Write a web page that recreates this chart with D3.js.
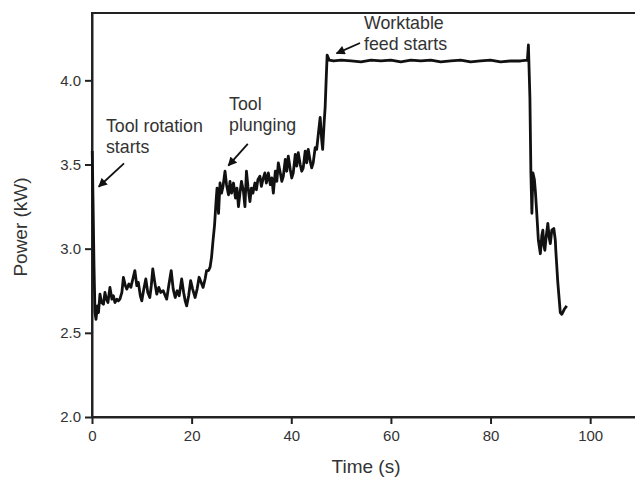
<!DOCTYPE html>
<html>
<head>
<meta charset="utf-8">
<script src="https://cdn.jsdelivr.net/npm/d3@7"></script>
<style>
	body { margin: 0; background: #fff; }
	svg { display: block; font-family: 'Liberation Sans', Arial, sans-serif; }
</style>
</head>
<body>
<svg id="chart"></svg>
<script>
const W = 635, H = 477;

// time (s) and power (kW)
const time = [
	0.05, 0.2, 0.4, 0.6, 0.8, 1.1, 1.3, 1.6, 1.9, 2.3, 2.6, 2.9, 3.2, 3.6, 4.0, 4.3, 4.6, 5.0, 5.3, 5.6,
	6.0, 6.3, 6.7, 7.0, 7.4, 7.8, 8.2, 8.6, 9.0, 9.3, 9.7, 10.0, 10.4, 10.8, 11.2, 11.6, 11.9, 12.2, 12.6, 13.0,
	13.4, 13.8, 14.3, 14.7, 15.0, 15.4, 15.9, 16.3, 16.7, 17.1, 17.5, 18.0, 18.4, 18.7, 19.0, 19.4, 19.8, 20.2, 20.7, 21.1,
	21.5, 21.9, 22.3, 22.7, 23.0, 23.4, 23.7, 24.0, 24.3, 24.6, 24.9, 25.1, 25.4, 25.7, 26.0, 26.3, 26.7, 27.0, 27.4, 27.7,
	28.0, 28.4, 28.8, 29.1, 29.4, 29.7, 30.0, 30.4, 30.7, 31.0, 31.3, 31.7, 32.0, 32.3, 32.7, 33.0, 33.3, 33.7, 34.0, 34.3,
	34.7, 35.0, 35.4, 35.8, 36.1, 36.4, 36.8, 37.1, 37.4, 37.8, 38.1, 38.4, 38.8, 39.1, 39.4, 39.8, 40.1, 40.4, 40.8, 41.1,
	41.4, 41.8, 42.1, 42.4, 42.8, 43.1, 43.4, 43.8, 44.1, 44.4, 44.8, 45.1, 45.5, 45.8, 46.1, 46.3, 46.6, 46.8, 47.0, 47.2,
	47.6, 48.5, 50, 52, 54, 56, 58, 60, 62, 64, 66, 68, 70, 72, 74, 76, 78, 80, 82, 84,
	86, 87.4, 87.6, 87.9, 88.1, 88.3, 88.5, 88.8, 89.0, 89.3, 89.6, 90.0, 90.3, 90.5, 90.7, 90.9, 91.2, 91.5, 91.8, 92.0,
	92.3, 92.7, 93.0, 93.1, 93.5, 94.0, 94.3, 94.8, 95.3
];
const power = [
	3.58, 3.30, 2.90, 2.62, 2.58, 2.66, 2.62, 2.73, 2.68, 2.67, 2.74, 2.70, 2.68, 2.77, 2.70, 2.72, 2.68, 2.70, 2.69, 2.70,
	2.74, 2.83, 2.78, 2.76, 2.79, 2.77, 2.82, 2.87, 2.78, 2.80, 2.72, 2.69, 2.76, 2.82, 2.74, 2.71, 2.78, 2.88, 2.80, 2.73,
	2.77, 2.74, 2.75, 2.72, 2.70, 2.78, 2.87, 2.76, 2.71, 2.75, 2.72, 2.82, 2.74, 2.69, 2.66, 2.72, 2.81, 2.76, 2.71, 2.76,
	2.83, 2.80, 2.77, 2.82, 2.87, 2.87, 2.89, 2.95, 3.05, 3.14, 3.28, 3.36, 3.21, 3.39, 3.33, 3.37, 3.46, 3.38, 3.32, 3.40,
	3.33, 3.39, 3.30, 3.36, 3.25, 3.33, 3.40, 3.34, 3.25, 3.46, 3.37, 3.28, 3.36, 3.33, 3.39, 3.35, 3.41, 3.43, 3.37, 3.41,
	3.45, 3.39, 3.45, 3.38, 3.42, 3.33, 3.46, 3.40, 3.51, 3.45, 3.40, 3.43, 3.53, 3.46, 3.55, 3.47, 3.42, 3.45, 3.56, 3.49,
	3.57, 3.50, 3.46, 3.48, 3.58, 3.51, 3.59, 3.52, 3.48, 3.51, 3.60, 3.59, 3.70, 3.78, 3.65, 3.59, 3.75, 3.84, 4.00, 4.15,
	4.12, 4.115, 4.12, 4.115, 4.11, 4.12, 4.115, 4.12, 4.11, 4.12, 4.115, 4.12, 4.11, 4.115, 4.12, 4.11, 4.115, 4.12, 4.11, 4.115,
	4.115, 4.12, 4.21, 3.90, 3.45, 3.21, 3.45, 3.41, 3.34, 3.20, 3.05, 2.97, 3.08, 3.11, 3.02, 2.99, 3.08, 3.15, 3.06, 3.03,
	3.11, 3.12, 3.05, 2.99, 2.80, 2.62, 2.61, 2.64, 2.66
];

const xTicks = [0, 20, 40, 60, 80, 100];
const yTicks = [2.0, 2.5, 3.0, 3.5, 4.0];

// annotation labels, anchored in data units: [t, P]
const notes = [
	{ lines: ['Tool rotation', 'starts'], at: [2.8, 3.695], from: [6.43, 3.507], to: [1.35, 3.368] },
	{ lines: ['Tool', 'plunging'], at: [27.5, 3.824], from: [31.27, 3.622], to: [27.37, 3.493] },
	{ lines: ['Worktable', 'feed starts'], at: [54.6, 4.303], from: [53.8, 4.222], to: [49.1, 4.16] }
];

const margin = { top: 13, left: 92, bottom: 60 };
const plotRight = 640;

const svg = d3.select('#chart').attr('width', W).attr('height', H);

const x = d3.scaleLinear().domain([0, 110]).range([margin.left, plotRight]);
const y = d3.scaleLinear().domain([2.0, 4.4]).range([H - margin.bottom, margin.top]);

const ink = '#222';

// frame (top and right sides)
svg.append('rect')
	.attr('x', x(0)).attr('y', y(4.4))
	.attr('width', x(110) - x(0)).attr('height', y(2.0) - y(4.4))
	.attr('fill', 'none').attr('stroke', ink).attr('stroke-width', 2);

const xAxis = svg.append('g')
	.attr('transform', `translate(0,${y(2.0)})`)
	.call(d3.axisBottom(x).tickValues(xTicks).tickSize(7).tickSizeOuter(0).tickPadding(6));
const yAxis = svg.append('g')
	.attr('transform', `translate(${x(0)},0)`)
	.call(d3.axisLeft(y).tickValues(yTicks).tickFormat(d3.format('.1f')).tickSize(7).tickSizeOuter(0).tickPadding(4));

[xAxis, yAxis].forEach(g => {
	g.select('.domain').attr('stroke', ink).attr('stroke-width', 2);
	g.selectAll('.tick line').attr('stroke', ink).attr('stroke-width', 2);
	g.selectAll('.tick text').attr('fill', '#333').attr('font-size', 15).attr('font-family', null);
});

svg.append('text')
	.attr('x', (x(0) + x(110)) / 2).attr('y', 473)
	.attr('text-anchor', 'middle').attr('font-size', 19).attr('fill', '#333')
	.text('Time (s)');
svg.append('text')
	.attr('transform', `translate(27,${(y(2.0) + y(4.4)) / 2 + 12}) rotate(-90)`)
	.attr('text-anchor', 'middle').attr('font-size', 19).attr('fill', '#333')
	.text('Power (kW)');

// trace
const pts = time.map((t, i) => [t, power[i]]);
svg.append('path').datum(pts)
	.attr('d', d3.line().x(d => x(d[0])).y(d => y(d[1])))
	.attr('fill', 'none').attr('stroke', '#111')
	.attr('stroke-width', 2.8).attr('stroke-linejoin', 'round');

// annotations
svg.append('defs').append('marker')
	.attr('id', 'head').attr('viewBox', '0 0 10 10')
	.attr('refX', 9).attr('refY', 5)
	.attr('markerWidth', 5.5).attr('markerHeight', 5)
	.attr('orient', 'auto')
	.append('path').attr('d', 'M0,0L10,5L0,10z').attr('fill', '#111');

notes.forEach(n => {
	const txt = svg.append('text')
		.attr('x', x(n.at[0])).attr('y', y(n.at[1]))
		.attr('font-size', 17.8).attr('fill', '#333');
	n.lines.forEach((l, i) => {
		txt.append('tspan').attr('x', x(n.at[0])).attr('dy', i ? 21 : 0).text(l);
	});
	svg.append('line')
		.attr('x1', x(n.from[0])).attr('y1', y(n.from[1]))
		.attr('x2', x(n.to[0])).attr('y2', y(n.to[1]))
		.attr('stroke', '#111').attr('stroke-width', 1.8)
		.attr('marker-end', 'url(#head)');
});
</script>
</body>
</html>
